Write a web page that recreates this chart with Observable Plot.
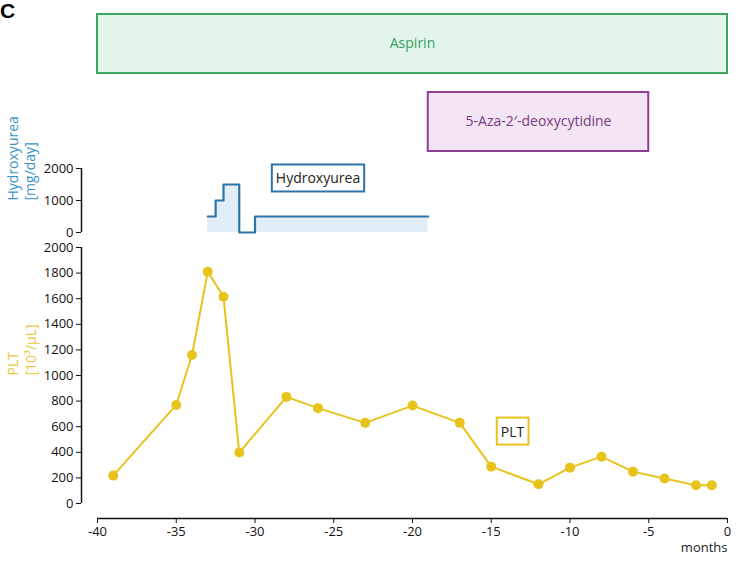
<!DOCTYPE html>
<html>
<head>
<meta charset="utf-8">
<script src="https://cdn.jsdelivr.net/npm/d3@7"></script>
<script src="https://cdn.jsdelivr.net/npm/@observablehq/plot@0.6"></script>
<style>
  body { margin: 0; background: #fff; }
  #chart { position: relative; width: 750px; height: 569px; font-family: "Open Sans", sans-serif; }
  #chart svg { position: absolute; left: 0; overflow: visible; background: transparent; }
  #panel-label { position: absolute; left: 0; top: 0; font: bold 21px "Liberation Sans", Arial, sans-serif; line-height: 1; color: #000; }
</style>
</head>
<body>
<div id="chart"><div id="panel-label">C</div></div>
<script>
// ---------- data ----------
const treatmentNames = ["Aspirin", "5-Aza-2\u2032-deoxycytidine"];
const treatmentStart = [-40, -19];
const treatmentEnd = [0, -5];

const hydroMonths = [-33, -32.5, -32, -31, -30, -19];
const hydroDose = [500, 1000, 1500, 0, 500, 500];

const pltMonths = [-39, -35, -34, -33, -32, -31, -28, -26, -23, -20, -17, -15, -12, -10, -8, -6, -4, -2, -1];
const pltValues = [218, 770, 1160, 1810, 1615, 398, 833, 745, 630, 765, 630, 288, 150, 280, 366, 249, 195, 143, 143];

const xTicks = [-40, -35, -30, -25, -20, -15, -10, -5, 0];
const pltTicks = [0, 200, 400, 600, 800, 1000, 1200, 1400, 1600, 1800, 2000];
const hydroTicks = [0, 1000, 2000];

const hydroAxisLabel = "Hydroxyurea\n[mg/day]";
const pltAxisLabel = "PLT\n[10\u00B3/\u03BCL]";
const xAxisLabel = "months";

// annotation label anchors (data units)
const hydroNote = [{text: "Hydroxyurea", month: -26, value: 1672}];
const pltNote = [{text: "PLT", month: -13.65, value: 558}];

// ---------- colours ----------
const treatmentFill = ["#e3f5ea", "#f3e5f3"];
const treatmentStroke = ["#3aa764", "#8e3f95"];
const treatmentText = ["#35a05f", "#7b3b82"];
const hydroColor = "#2c75aa";
const hydroFill = "#e2eef7";
const hydroLabelColor = "#3b93c9";
const pltColor = "#e8c31c";
const pltLabelColor = "#e9c83e";

// ---------- build ----------
const W = 750, ML = 97, MR = 23;
const xDomain = [-40, 0];
const chart = document.getElementById("chart");

const tData = treatmentNames.map((name, i) => ({
  name, start: treatmentStart[i], end: treatmentEnd[i],
  fill: treatmentFill[i], stroke: treatmentStroke[i], tcolor: treatmentText[i]
}));
const hydro = hydroMonths.map((m, i) => ({month: m, dose: hydroDose[i]}));
const plt = pltMonths.map((m, i) => ({month: m, value: pltValues[i]}));

function place(svg, top) {
  svg.style.top = top + "px";
  chart.appendChild(svg);
  return svg;
}

function boxify(svg, strokes, padX, padY) {
  const groups = svg.querySelectorAll('g[aria-description="boxed"]');
  groups.forEach(g => {
    g.querySelectorAll("text").forEach((t, i) => {
      const b = t.getBBox();
      const r = document.createElementNS("http://www.w3.org/2000/svg", "rect");
      r.setAttribute("x", b.x - padX);
      r.setAttribute("y", b.y - padY);
      r.setAttribute("width", b.width + 2 * padX);
      r.setAttribute("height", b.height + 2 * padY);
      r.setAttribute("fill", "#fff");
      r.setAttribute("stroke", strokes[i] || strokes[0]);
      r.setAttribute("stroke-width", 2);
      const tr = t.getAttribute("transform");
      if (tr) r.setAttribute("transform", tr);
      g.insertBefore(r, t);
    });
  });
}

// Treatment bars
const topPlot = Plot.plot({
  width: W, height: 160, marginLeft: ML, marginRight: MR, marginTop: 13, marginBottom: 8,
  style: {fontFamily: "'Open Sans', sans-serif", background: "transparent"},
  x: {domain: xDomain, axis: null},
  y: {domain: treatmentNames, axis: null, paddingInner: 0.24, paddingOuter: 0},
  marks: [
    Plot.barX(tData, {x1: "start", x2: "end", y: "name", fill: "fill", stroke: "stroke", strokeWidth: 2}),
    Plot.text(tData, {x: d => (d.start + d.end) / 2, y: "name", text: "name", fill: "tcolor", fontSize: 14})
  ]
});
place(topPlot, 0);

// Hydroxyurea panel
const hydroPlot = Plot.plot({
  width: W, height: 90, marginLeft: ML, marginRight: MR, marginTop: 18, marginBottom: 8,
  style: {fontFamily: "'Open Sans', sans-serif", background: "transparent", color: "#111"},
  x: {domain: xDomain, axis: null},
  y: {domain: [0, 2000], axis: null},
  marks: [
    Plot.areaY(hydro, {x: "month", y: "dose", curve: "step-after", fill: hydroFill}),
    Plot.lineY(hydro, {x: "month", y: "dose", curve: "step-after", stroke: hydroColor, strokeWidth: 2.2}),
    Plot.axisY({ticks: hydroTicks, tickFormat: d => String(d), label: null, dx: -16, tickSize: 5, tickPadding: 3, fontSize: 13}),
    Plot.ruleX([xDomain[0]], {y1: 0, y2: 2000, dx: -16, stroke: "#111", strokeWidth: 1.5}),
    Plot.text([hydroAxisLabel], {frameAnchor: "left", rotate: -90, dx: -76, fill: hydroLabelColor, fontSize: 14, lineHeight: 1.2}),
    Plot.text(hydroNote, {x: "month", y: "value", text: "text", fontSize: 14, fill: "#222", ariaDescription: "boxed"})
  ]
});
place(hydroPlot, 150);
boxify(hydroPlot, [hydroColor], 4, 4);

// PLT panel
const pltPlot = Plot.plot({
  width: W, height: 334, marginLeft: ML, marginRight: MR, marginTop: 11, marginBottom: 67,
  style: {fontFamily: "'Open Sans', sans-serif", background: "transparent", color: "#111"},
  x: {domain: xDomain, axis: null},
  y: {domain: [0, 2000], axis: null},
  marks: [
    Plot.axisY({ticks: pltTicks, tickFormat: d => String(d), label: null, dx: -16, tickSize: 5, tickPadding: 3, fontSize: 13}),
    Plot.ruleX([xDomain[0]], {y1: 0, y2: 2000, dx: -16, stroke: "#111", strokeWidth: 1.5}),
    Plot.axisX({ticks: xTicks, tickFormat: d => String(d), label: null, dy: 15, tickSize: 5, tickPadding: 3, fontSize: 13}),
    Plot.ruleY([0], {x1: xDomain[0], x2: xDomain[1], dy: 15, stroke: "#111", strokeWidth: 1.5}),
    Plot.line(plt, {x: "month", y: "value", stroke: pltColor, strokeWidth: 2}),
    Plot.dot(plt, {x: "month", y: "value", r: 5, fill: pltColor}),
    Plot.text([xAxisLabel], {frameAnchor: "bottom-right", dy: 48, textAnchor: "end", fontSize: 13, fill: "#222"}),
    Plot.text([pltAxisLabel], {frameAnchor: "left", rotate: -90, dx: -76, fill: pltLabelColor, fontSize: 14, lineHeight: 1.3}),
    Plot.text(pltNote, {x: "month", y: "value", text: "text", fontSize: 14, fill: "#222", ariaDescription: "boxed"})
  ]
});
place(pltPlot, 236);
boxify(pltPlot, [pltColor], 4, 4);
</script>
</body>
</html>
